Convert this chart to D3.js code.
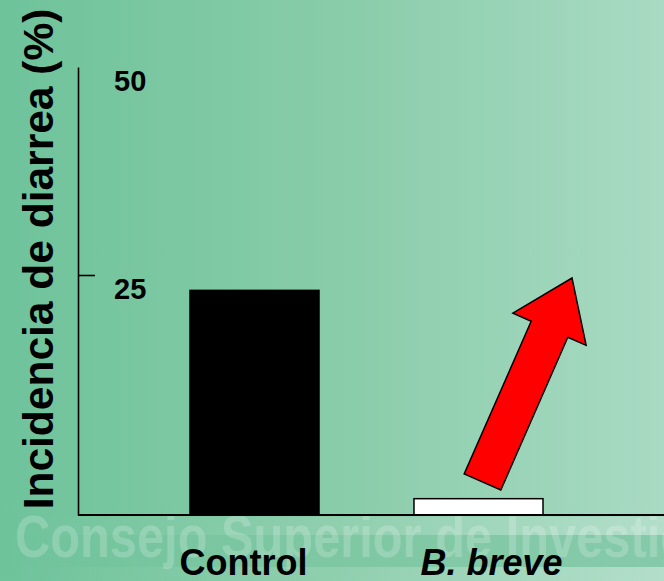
<!DOCTYPE html>
<html>
<head>
<meta charset="utf-8">
<script src="https://cdn.jsdelivr.net/npm/d3@7"></script>
<style>
  html, body { margin: 0; padding: 0; background: #fff; }
  svg { display: block; }
  text { font-family: "Liberation Sans", Arial, Helvetica, sans-serif; }
</style>
</head>
<body>
<svg id="chart" width="664" height="581"></svg>
<script>
// ---- data ----
const categories = ["Control", "B. breve"];
const incidence = [23.4, 1.7];          // Incidencia de diarrea (%)
const tickValues = [25, 50];
const tickLabels = ["25", "50"];
const yTitle = "Incidencia de diarrea (%)";
const watermark = "Consejo Superior de Investig";

// ---- layout ----
const W = 664, H = 581;
const axisX = 78, baseY = 515;
const svg = d3.select("#chart");
const defs = svg.append("defs");

// background gradient
const bg = defs.append("linearGradient").attr("id", "bg").attr("x1", "0").attr("x2", "1").attr("y1", "0").attr("y2", "0");
bg.append("stop").attr("offset", "0").attr("stop-color", "#6ec39b");
bg.append("stop").attr("offset", "0.5").attr("stop-color", "#88cca9");
bg.append("stop").attr("offset", "1").attr("stop-color", "#a9dac3");
svg.append("rect").attr("width", W).attr("height", H).attr("fill", "url(#bg)");

// bottom banner strips
const lightG = defs.append("linearGradient").attr("id", "lightG").attr("x1", "0").attr("x2", "1");
lightG.append("stop").attr("offset", "0").attr("stop-color", "#ffffff").attr("stop-opacity", 0.0);
lightG.append("stop").attr("offset", "1").attr("stop-color", "#ffffff").attr("stop-opacity", 0.12);
const darkG = defs.append("linearGradient").attr("id", "darkG").attr("x1", "0").attr("x2", "1");
darkG.append("stop").attr("offset", "0").attr("stop-color", "#5fb98e").attr("stop-opacity", 0.0);
darkG.append("stop").attr("offset", "0.5").attr("stop-color", "#5fb98e").attr("stop-opacity", 0.25);
darkG.append("stop").attr("offset", "1").attr("stop-color", "#5fb98e").attr("stop-opacity", 0.5);
svg.append("rect").attr("x", 0).attr("y", 517).attr("width", W).attr("height", 18).attr("fill", "url(#lightG)");
svg.append("rect").attr("x", 0).attr("y", 535).attr("width", W).attr("height", 32).attr("fill", "url(#darkG)");
svg.append("rect").attr("x", 0).attr("y", 567).attr("width", W).attr("height", 14).attr("fill", "url(#lightG)");

// watermark
svg.append("text")
  .attr("x", 15).attr("y", 557)
  .attr("textLength", 675).attr("lengthAdjust", "spacingAndGlyphs")
  .style("font-family", "'Liberation Sans Narrow', 'Arial Narrow', 'Liberation Sans', sans-serif")
  .style("font-weight", "bold").style("font-size", "59px")
  .attr("fill", "#ffffff").attr("fill-opacity", 0.2)
  .text(watermark);

// ---- scales ----
const x = d3.scaleBand().domain(categories).range([axisX, 655]).paddingInner(0.424).paddingOuter(0.5);
const y = d3.scaleLinear().domain([0, 25, 50]).range([baseY, 275, 67]);

// bars
const barStyle = { "Control": { fill: "#000000", stroke: "#000000" }, "B. breve": { fill: "#ffffff", stroke: "#000000" } };
svg.append("g").selectAll("rect").data(categories).join("rect")
  .attr("x", d => x(d))
  .attr("y", (d, i) => y(incidence[i]))
  .attr("width", x.bandwidth())
  .attr("height", (d, i) => y(0) - y(incidence[i]))
  .attr("fill", d => barStyle[d].fill)
  .attr("stroke", d => barStyle[d].stroke)
  .attr("stroke-width", 1.5);

// y axis (labels to the right of the line)
const yAxis = d3.axisRight(y).tickValues(tickValues).tickFormat((d, i) => tickLabels[i]).tickSize(17).tickSizeOuter(0).tickPadding(19);
const ga = svg.append("g").attr("transform", `translate(${axisX},0)`).call(yAxis);
ga.select(".domain").attr("stroke", "#000").attr("stroke-width", 1.6);
ga.selectAll(".tick line").attr("stroke", "#000").attr("stroke-width", 1.6)
  .style("display", d => d === 50 ? "none" : null);
ga.selectAll(".tick text")
  .attr("fill", "#000").attr("dy", "0.8em")
  .style("font-family", "'Liberation Sans', Arial, sans-serif")
  .style("font-size", "29px").style("font-weight", "bold");

// x baseline
svg.append("line").attr("x1", axisX).attr("x2", W).attr("y1", y(0)).attr("y2", y(0))
  .attr("stroke", "#000").attr("stroke-width", 1.8);

// category labels
const labelShift = { "Control": -11, "B. breve": 13 };
svg.append("g").selectAll("text").data(categories).join("text")
  .attr("x", d => x(d) + x.bandwidth() / 2 + labelShift[d])
  .attr("y", 575)
  .attr("text-anchor", "middle")
  .style("font-size", "36px").style("font-weight", "bold")
  .style("font-style", d => d === "B. breve" ? "italic" : "normal")
  .attr("fill", "#000")
  .text(d => d);

// y title
svg.append("text")
  .attr("transform", `translate(53,${259}) rotate(-90)`)
  .attr("text-anchor", "middle")
  .style("font-size", "42.5px").style("font-weight", "bold")
  .attr("fill", "#000")
  .text(yTitle);

// red arrow annotation (tail centre -> tip)
const arrow = { tail: [482.5, 482], tip: [572, 278], shaft: 40, head: 80, headLen: 56 };
(function () {
  const [tx, ty] = arrow.tail, [px, py] = arrow.tip;
  const L = Math.hypot(px - tx, py - ty);
  const ux = (px - tx) / L, uy = (py - ty) / L;
  const nx = -uy, ny = ux;
  const bx = px - ux * arrow.headLen, by = py - uy * arrow.headLen;
  const s = arrow.shaft / 2, h = arrow.head / 2;
  const pts = [
    [tx + nx * s, ty + ny * s],
    [bx + nx * s, by + ny * s],
    [bx + nx * h, by + ny * h],
    [px, py],
    [bx - nx * h, by - ny * h],
    [bx - nx * s, by - ny * s],
    [tx - nx * s, ty - ny * s]
  ];
  svg.append("path")
    .attr("d", d3.line()(pts) + "Z")
    .attr("fill", "#ff0000").attr("stroke", "#000").attr("stroke-width", 1.5).attr("stroke-linejoin", "miter");
})();
</script>
</body>
</html>
